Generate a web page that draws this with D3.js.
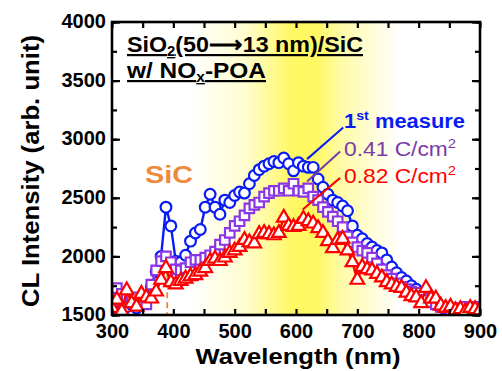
<!DOCTYPE html>
<html>
<head>
<meta charset="utf-8">
<script src="https://cdn.jsdelivr.net/npm/d3@7"></script>
<style>
  html, body { margin: 0; padding: 0; background: #fff; }
  text { font-family: "Liberation Sans", Arial, sans-serif; }
</style>
</head>
<body>
<div class="chart"></div>
<script>
// wavelength grid (nm)
const wavelength = [300, 308, 316, 324, 332, 340, 348, 356, 364, 372, 380, 388, 396, 404, 412, 420,
  428, 436, 444, 452, 460, 468, 476, 484, 492, 500, 508, 516, 524, 532, 540, 548, 556, 564, 572,
  580, 588, 596, 604, 612, 620, 628, 636, 644, 652, 660, 668, 676, 684, 692, 700, 708, 716, 724,
  732, 740, 748, 756, 764, 772, 780, 788, 796, 804, 812, 820, 828, 836, 844, 852, 860, 868, 876,
  884, 892, 900];

// 1st measure
const measure1 = [1580, 1560, 1600, 1570, 1590, 1560, 1600, 1660, 1740, 1870, 2000, 2420, 2260, 1960,
  1950, 2010, 2130, 2200, 2230, 2420, 2530, 2420, 2360, 2480, 2460, 2520, 2550, 2540, 2620, 2690,
  2740, 2770, 2790, 2810, 2800, 2840, 2790, 2730, 2800, 2770, 2760, 2760, 2660, 2590, 2530, 2480,
  2460, 2430, 2390, 2260, 2180, 2150, 2110, 2080, 2050, 2030, 1970, 1910, 1860, 1820, 1790, 1750,
  1720, 1690, 1650, 1620, 1600, 1570, 1550, 1540, 1530, 1530, 1520, 1520, 1530, 1520];

// after 0.41 C/cm2
const dose041 = [1620, 1730, 1680, 1660, 1640, 1650, 1600, 1590, 1760, 1880, 1960, 2000, 1950, 1890,
  1880, 1900, 1950, 1970, 1970, 1990, 2010, 2040, 2100, 2140, 2200, 2260, 2300, 2350, 2410, 2440,
  2460, 2510, 2540, 2560, 2560, 2580, 2560, 2620, 2560, 2550, 2580, 2510, 2480, 2420, 2380, 2340,
  2300, 2250, 2170, 2120, 2080, 2050, 2030, 1990, 1940, 1890, 1840, 1810, 1770, 1740, 1720, 1700,
  1690, 1660, 1630, 1610, 1590, 1570, 1560, 1540, 1560, 1550, 1570, 1560, 1570, 1560];

// after 0.82 C/cm2
const dose082 = [1560, 1630, 1530, 1710, 1600, 1570, 1680, 1650, 1640, 1700, 1800, 1900, 1780, 1760,
  1790, 1810, 1830, 1840, 1870, 1900, 1960, 1980, 1960, 1990, 2030, 2050, 2080, 2140, 2120, 2110,
  2190, 2200, 2190, 2180, 2200, 2330, 2260, 2250, 2260, 2320, 2300, 2280, 2240, 2200, 2130, 2070,
  2140, 2150, 2050, 1950, 1800, 1910, 1890, 1880, 1850, 1820, 1780, 1760, 1740, 1730, 1690, 1660,
  1650, 1600, 1730, 1640, 1640, 1580, 1560, 1570, 1540, 1550, 1530, 1560, 1550, 1540];

const xTicks = [300, 400, 500, 600, 700, 800, 900];
const yTicks = [1500, 2000, 2500, 3000, 3500, 4000];

const W = 502, H = 371;
const margin = {top: 22, right: 22, bottom: 56, left: 112};
const width = W - margin.left - margin.right;
const height = H - margin.top - margin.bottom;

const svg = d3.select('.chart')
  .append('svg')
  .attr('width', W)
  .attr('height', H);

const g = svg.append('g')
  .attr('transform', `translate(${margin.left}, ${margin.top})`);

const x = d3.scaleLinear().domain([300, 900]).range([0, width]);
const y = d3.scaleLinear().domain([1500, 4000]).range([height, 0]);

// yellow highlight band
const defs = svg.append('defs');
const grad = defs.append('linearGradient').attr('id', 'band');
[[0, 0], [0.25, 0.3], [0.42, 0.8], [0.48, 1], [0.6, 1], [0.72, 0.55], [1, 0]].forEach(([o, a]) => {
  grad.append('stop').attr('offset', o).attr('stop-color', '#fff863').attr('stop-opacity', a);
});
g.append('rect')
  .attr('x', x(430)).attr('width', x(770) - x(430))
  .attr('y', 0).attr('height', height)
  .style('fill', 'url(#band)');

defs.append('clipPath').attr('id', 'plot')
  .append('rect').attr('width', width).attr('height', height);

// SiC reference line
g.append('line')
  .attr('x1', x(390)).attr('x2', x(390))
  .attr('y1', y(1950)).attr('y2', height)
  .style('stroke', '#f08a30').style('stroke-width', 1.8)
  .style('stroke-dasharray', '6,4');

// series
const series = [
  {values: measure1, color: '#0a1cf5', symbol: d3.symbolCircle, size: 90},
  {values: dose041, color: '#8c35e6', symbol: d3.symbolSquare, size: 90},
  {values: dose082, color: '#ff0000', symbol: d3.symbolTriangle, size: 80},
];

const line = d3.line()
  .x((d, i) => x(wavelength[i]))
  .y(d => y(d));

const plot = g.append('g').attr('clip-path', 'url(#plot)');
series.forEach(s => {
  plot.append('path')
    .attr('d', line(s.values))
    .style('fill', 'none')
    .style('stroke', s.color)
    .style('stroke-width', 2.4);
  plot.selectAll(null)
    .data(s.values)
    .enter()
    .append('path')
    .attr('transform', (d, i) => `translate(${x(wavelength[i])}, ${y(d)})`)
    .attr('d', d3.symbol().type(s.symbol).size(s.size))
    .style('fill', '#fff')
    .style('stroke', s.color)
    .style('stroke-width', 2.2);
});

// axes, ticks pointing inward
const minorX = d3.range(300, 901, 50);
const minorY = d3.range(1500, 4001, 250);
const tickStyle = sel => {
  sel.select('.domain').remove();
  sel.selectAll('line').style('stroke', '#000').style('stroke-width', 2.2);
  sel.selectAll('text')
    .style('font-size', '20px').style('font-weight', 'bold').style('fill', '#000');
};

g.append('g')
  .attr('transform', `translate(0, ${height})`)
  .call(d3.axisBottom(x).tickValues(minorX).tickSizeInner(-6).tickSizeOuter(0).tickFormat(''))
  .call(tickStyle);
g.append('g')
  .attr('transform', `translate(0, ${height})`)
  .call(d3.axisBottom(x).tickValues(xTicks).tickSize(0).tickPadding(9).tickFormat(d3.format('d')))
  .call(tickStyle);
g.append('g')
  .call(d3.axisTop(x).tickValues(minorX).tickSizeInner(-6).tickSizeOuter(0).tickFormat(''))
  .call(tickStyle);

g.append('g')
  .call(d3.axisLeft(y).tickValues(minorY).tickSizeInner(-5).tickSizeOuter(0).tickFormat(''))
  .call(tickStyle);
g.append('g')
  .call(d3.axisLeft(y).tickValues(yTicks).tickSizeInner(-8).tickSizeOuter(0).tickPadding(6)
    .tickFormat(d3.format('d')))
  .call(tickStyle)
  .call(a => a.selectAll('text').attr('dy', '0.28em'));
g.append('g')
  .attr('transform', `translate(${width}, 0)`)
  .call(d3.axisRight(y).tickValues(minorY).tickSizeInner(-5).tickSizeOuter(0).tickFormat(''))
  .call(tickStyle);
g.append('g')
  .attr('transform', `translate(${width}, 0)`)
  .call(d3.axisRight(y).tickValues(yTicks).tickSizeInner(-8).tickSizeOuter(0).tickFormat(''))
  .call(tickStyle);

g.append('rect')
  .attr('width', width).attr('height', height)
  .style('fill', 'none').style('stroke', '#000').style('stroke-width', 2.6);

// axis titles
svg.append('text')
  .attr('x', margin.left + width / 2 + 2).attr('y', 364)
  .attr('text-anchor', 'middle')
  .attr('textLength', 205).attr('lengthAdjust', 'spacingAndGlyphs')
  .style('font-size', '22px').style('font-weight', 'bold')
  .text('Wavelength (nm)');

svg.append('text')
  .attr('transform', 'translate(39, 171) rotate(-90)')
  .attr('text-anchor', 'middle')
  .attr('textLength', 272).attr('lengthAdjust', 'spacingAndGlyphs')
  .style('font-size', '23px').style('font-weight', 'bold')
  .text('CL Intensity (arb. unit)');

// sample title (underlined)
const t1 = svg.append('text')
  .attr('x', 127).attr('y', 52)
  .attr('textLength', 236).attr('lengthAdjust', 'spacingAndGlyphs')
  .style('font-size', '22px').style('font-weight', 'bold')
  .style('text-decoration', 'underline');
t1.append('tspan').text('SiO');
t1.append('tspan').attr('dy', 4).style('font-size', '14px').text('2');
t1.append('tspan').attr('dy', -4).text('(50\u27f613 nm)/SiC');

const t2 = svg.append('text')
  .attr('x', 127).attr('y', 78)
  .attr('textLength', 139).attr('lengthAdjust', 'spacingAndGlyphs')
  .style('font-size', '22px').style('font-weight', 'bold')
  .style('text-decoration', 'underline');
t2.append('tspan').text('w/ NO');
t2.append('tspan').attr('dy', 4).style('font-size', '14px').text('x');
t2.append('tspan').attr('dy', -4).text('-POA');

// SiC label
svg.append('text')
  .attr('x', 145).attr('y', 183)
  .attr('textLength', 48).attr('lengthAdjust', 'spacingAndGlyphs')
  .style('font-size', '24px').style('font-weight', 'bold').style('fill', '#ef8a3c')
  .text('SiC');

// legend labels with leader lines
const labels = [
  {main: '1', sup: 'st', rest: ' measure', color: '#0a1cf5', weight: 'bold', yb: 128, len: 121, from: [618, 2830], to: [677, 3100]},
  {main: '0.41 C/cm', sup: '2', rest: '', color: '#7a3ba8', weight: 'normal', yb: 156, len: 112, from: [618, 2640], to: [672, 2895]},
  {main: '0.82 C/cm', sup: '2', rest: '', color: '#ff0000', weight: 'normal', yb: 183, len: 112, from: [611, 2400], to: [672, 2670]},
];
labels.forEach(l => {
  g.append('line')
    .attr('x1', x(l.from[0])).attr('y1', y(l.from[1]))
    .attr('x2', x(l.to[0])).attr('y2', y(l.to[1]))
    .style('stroke', l.color).style('stroke-width', 2);
  const t = svg.append('text')
    .attr('x', 344).attr('y', l.yb)
    .attr('textLength', l.len).attr('lengthAdjust', 'spacingAndGlyphs')
    .style('font-size', '20px').style('font-weight', l.weight).style('fill', l.color);
  t.append('tspan').text(l.main);
  t.append('tspan').attr('dy', -8).style('font-size', '13px').text(l.sup);
  if (l.rest) t.append('tspan').attr('dy', 8).text(l.rest);
});
</script>
</body>
</html>
